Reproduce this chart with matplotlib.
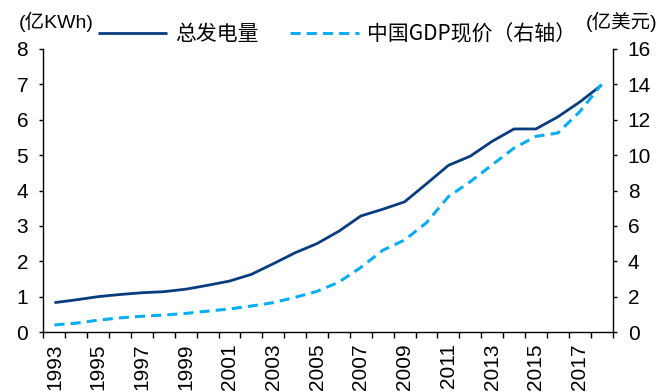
import matplotlib
matplotlib.use("Agg")
import matplotlib.pyplot as plt
import numpy as np

plt.rcParams['font.family'] = ['Liberation Sans', 'Noto Sans CJK SC', 'DejaVu Sans']

years = list(range(1993, 2019))
year_labels = [str(y) for y in years]
# 总发电量 (left axis)
power = [0.83, 0.91, 1.00, 1.06, 1.11, 1.14, 1.21, 1.32, 1.44, 1.63, 1.93, 2.24,
         2.50, 2.85, 3.28, 3.47, 3.68, 4.19, 4.71, 4.97, 5.39, 5.74, 5.74, 6.08,
         6.50, 6.98]
# 中国GDP现价 (right axis)
gdp = [0.40, 0.50, 0.67, 0.80, 0.89, 0.96, 1.05, 1.18, 1.30, 1.47, 1.66, 1.96,
       2.30, 2.82, 3.65, 4.62, 5.20, 6.18, 7.65, 8.50, 9.45, 10.40, 11.06, 11.25,
       12.45, 14.00]

DARK = '#093C7E'
LIGHT = '#0AAEEE'

fig = plt.figure(figsize=(6.6, 3.92), dpi=100)
ax = fig.add_axes([43.5 / 660, 1 - 332 / 392, (612.5 - 43.5) / 660, (332 - 49) / 392])
ax2 = ax.twinx()

x = np.arange(len(years))
l1, = ax.plot(x, power, color=DARK, lw=2.0, solid_capstyle='butt')
l2, = ax2.plot(x, gdp, color=LIGHT, lw=2.2, linestyle=(0, (3.3, 2.0)))

ax.set_xlim(-0.5, len(years) - 0.5)
ax.set_ylim(0, 8)
ax2.set_ylim(0, 16)
ax.set_yticks(range(0, 9))
ax2.set_yticks(range(0, 17, 2))

ax.set_xticks(x[::2])
ax.set_xticklabels(year_labels[::2], rotation=90, fontsize=15)
ax.set_xticks(np.arange(-0.5, len(years)), minor=True)
ax.tick_params(axis='x', which='major', length=0, pad=8)
ax.tick_params(axis='x', which='minor', length=4.5, width=1, direction='out')
ax.tick_params(axis='y', length=3, width=1, labelsize=15, pad=8)
ax2.tick_params(axis='y', length=3, width=1, labelsize=15, pad=8)

for a in (ax, ax2):
    a.spines['top'].set_visible(False)
    for s in ('left', 'right', 'bottom'):
        a.spines[s].set_linewidth(1.0)
        a.spines[s].set_color('black')
ax.spines['right'].set_visible(False)
ax2.spines['left'].set_visible(False)
ax2.spines['bottom'].set_visible(False)

fig.text(19 / 660, 1 - 22 / 392, '(亿KWh)', fontsize=14, ha='left', va='center')
fig.text(657 / 660, 1 - 22 / 392, '(亿美元)', fontsize=14, ha='right', va='center')

fig.legend([l1, l2], ['总发电量', '中国GDP现价（右轴）'], ncol=2, frameon=False,
           loc='center', bbox_to_anchor=(337 / 660, 1 - 34 / 392),
           prop={'family': ['Noto Sans CJK SC', 'Liberation Sans'], 'size': 15},
           handlelength=3.3, handletextpad=0.4, columnspacing=1.5)

fig.savefig('out.png', dpi=100)
